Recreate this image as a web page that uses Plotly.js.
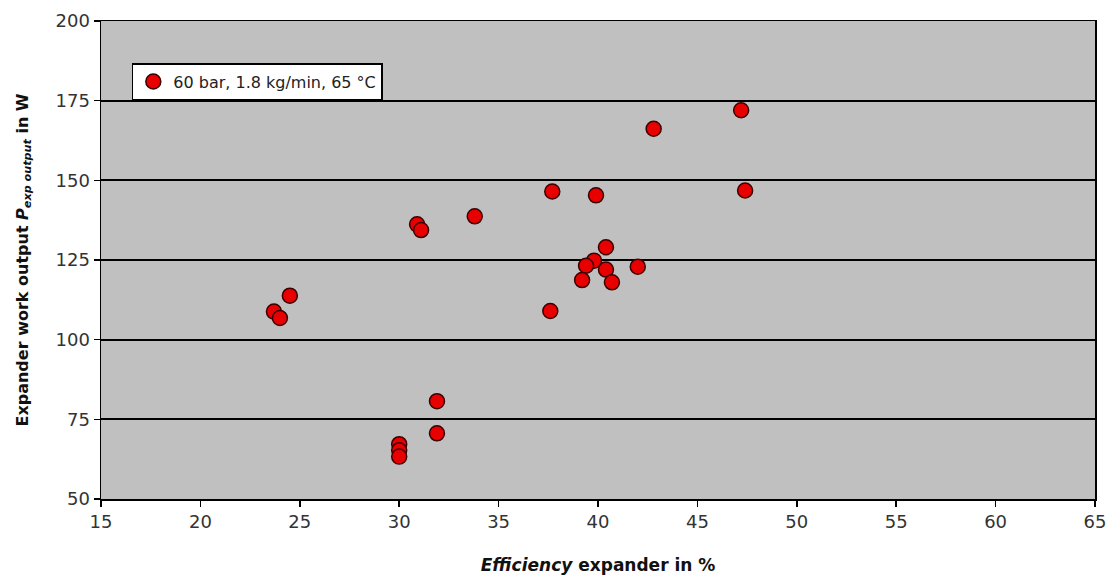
<!DOCTYPE html>
<html>
<head>
<meta charset="utf-8">
<script src="https://cdn.plot.ly/plotly-3.0.1.min.js"></script>
<style>html,body{margin:0;padding:0;background:#fff;}#chart{width:1116px;height:583px;}</style>
</head>
<body>
<div id="chart"></div>
<script>
const seriesName = "60 bar, 1.8 kg/min, 65 °C";
const efficiency = [47.2, 47.4, 42.8, 37.7, 39.9, 40.4, 39.8, 39.4, 40.4, 39.2, 40.7, 42.0, 37.6,
                    30.9, 31.1, 33.8, 24.5, 23.7, 24.0, 31.9, 31.9, 30.0, 30.0, 30.0];
const workOutput = [172.0, 146.8, 166.2, 146.5, 145.3, 129.0, 124.8, 123.2, 122.0, 118.7, 118.0, 122.9, 109.0,
                    136.2, 134.4, 138.7, 113.8, 108.8, 106.8, 80.7, 70.6, 67.2, 65.3, 63.3];
const xTicks = [15, 20, 25, 30, 35, 40, 45, 50, 55, 60, 65];
const yTicks = [50, 75, 100, 125, 150, 175, 200];

const font = "DejaVu Sans, Verdana, sans-serif";

Plotly.newPlot("chart", [{
  type: "scatter",
  mode: "markers",
  name: seriesName,
  x: efficiency,
  y: workOutput,
  marker: {color: "#e80000", size: 15, line: {color: "#3a0000", width: 1.5}},
  showlegend: true
}], {
  width: 1116, height: 583,
  margin: {l: 101, r: 21, t: 21, b: 84},
  paper_bgcolor: "#ffffff",
  plot_bgcolor: "#c0c0c0",
  font: {family: font, color: "#222"},
  showlegend: true,
  legend: {
    x: 0.031, y: 0.912, xanchor: "left", yanchor: "top",
    bgcolor: "#ffffff", bordercolor: "#000", borderwidth: 1.5,
    font: {size: 16, family: font, color: "#222"},
    itemwidth: 30, tracegroupgap: 0
  },
  xaxis: {
    range: [15, 65], tickvals: xTicks, ticktext: xTicks.map(String),
    showgrid: false, zeroline: false,
    showline: true, linecolor: "#000", linewidth: 1.5, mirror: true,
    ticks: "outside", ticklen: 6, tickcolor: "#000", tickwidth: 1.5,
    tickfont: {size: 18, family: font, color: "#333"},
    title: {text: "<b><i>Efficiency</i> expander in %</b>", font: {size: 17, family: font, color: "#111"}, standoff: 28}
  },
  yaxis: {
    range: [50, 200], tickvals: yTicks, ticktext: yTicks.map(String),
    showgrid: true, gridcolor: "#000", gridwidth: 1.8, zeroline: false,
    showline: true, linecolor: "#000", linewidth: 1.5, mirror: true,
    ticks: "outside", ticklen: 6, tickcolor: "#000", tickwidth: 1.5,
    tickfont: {size: 18, family: font, color: "#333"},
    title: {text: "<b>Expander work output <i>P</i><sub><i>exp output</i></sub> in W</b>", font: {size: 16, family: font, color: "#111"}, standoff: 23}
  }
}, {displayModeBar: false, staticPlot: true});
</script>
</body>
</html>
